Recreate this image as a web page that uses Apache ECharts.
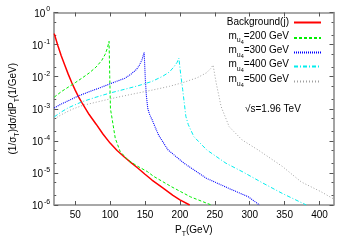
<!DOCTYPE html>
<html><head><meta charset="utf-8">
<script src="https://cdn.jsdelivr.net/npm/echarts@6/dist/echarts.min.js"></script>
<style>html,body{margin:0;padding:0;background:#fff}#c{width:350px;height:245px}</style>
</head><body><div id="c"></div>
<script>
// ---- data ----
const bgX  = [20, 25, 30, 35, 40, 45, 50, 55, 60, 70, 80, 90, 100, 110, 120, 130, 140, 150, 160, 175, 190, 200, 214];
const bgY  = [0.22, 0.095, 0.045, 0.023, 0.012, 0.0066, 0.0038, 0.0023, 0.0015, 6.6e-4, 3.3e-4, 1.6e-4, 8.5e-5, 5.0e-5, 3.2e-5, 2.1e-5, 1.4e-5, 9.1e-6, 6.0e-6, 3.5e-6, 2.0e-6, 1.45e-6, 1.0e-6];

const m200X = [20, 30, 40, 50, 60, 70, 80, 88, 93, 96, 98.5, 99.5, 100.5, 102.8, 107.4, 114.3, 125.8, 139.6, 153.4, 162, 188, 215, 245];
const m200Y = [2.3e-3, 3.4e-3, 4.7e-3, 6.5e-3, 9.1e-3, 0.013, 0.020, 0.032, 0.050, 0.076, 0.126, 0.010, 1.0e-3, 5.0e-4, 1.2e-4, 4.7e-5, 2.5e-5, 1.6e-5, 1.1e-5, 7.9e-6, 3.7e-6, 1.8e-6, 1.0e-6];

const m300X = [20, 30, 43, 54.5, 70, 84.4, 100, 121, 130, 138, 142, 145.5, 148.8, 150.5, 152, 154, 157, 160.3, 163, 169.5, 183, 206, 238, 270, 298, 314];
const m300Y = [1.05e-3, 1.4e-3, 1.9e-3, 2.5e-3, 3.4e-3, 4.4e-3, 6.0e-3, 8.9e-3, 0.012, 0.017, 0.023, 0.033, 0.057, 7.9e-3, 2.5e-3, 1.0e-3, 6.3e-4, 4.5e-4, 3.2e-4, 1.5e-4, 5.2e-5, 2.0e-5, 6.8e-6, 3.3e-6, 1.8e-6, 1.0e-6];

const m400X = [20, 30, 40, 60, 80, 100, 120, 140, 160, 175, 185, 192, 196, 198.5, 201, 204, 208.5, 212, 220, 238.5, 266, 291, 319, 346.6, 381];
const m400Y = [5.6e-4, 7.9e-4, 1.07e-3, 1.66e-3, 2.3e-3, 3.1e-3, 4.0e-3, 5.2e-3, 7.1e-3, 0.0102, 0.014, 0.021, 0.028, 0.038, 0.0126, 3.9e-3, 5.8e-4, 3.2e-4, 1.35e-4, 5.2e-5, 2.0e-5, 1.05e-5, 4.8e-6, 2.3e-6, 1.0e-6];

const m500X = [20, 30, 45, 60, 80, 107, 130, 160, 185, 205, 225, 238, 244, 247.5, 252, 259, 270.6, 289, 312, 346.6, 374, 402, 420];
const m500Y = [4.8e-4, 6.5e-4, 9.5e-4, 1.26e-3, 1.6e-3, 2.2e-3, 2.8e-3, 3.8e-3, 5.0e-3, 6.6e-3, 9.3e-3, 0.0132, 0.0178, 0.023, 6.3e-3, 1.17e-3, 2.75e-4, 1.07e-4, 5.2e-5, 1.6e-5, 5.2e-6, 2.6e-6, 1.55e-6];

const seriesNames = ['Background(j)', 'm200', 'm300', 'm400', 'm500'];
const massLabels = ['200', '300', '400', '500'];
const xTicks = [50, 100, 150, 200, 250, 300, 350, 400];
const yMajor = [1e-6, 1e-5, 1e-4, 1e-3, 1e-2, 1e-1, 1];
const yMinor = [2e-6, 5e-6, 2e-5, 5e-5, 2e-4, 5e-4, 2e-3, 5e-3, 2e-2, 5e-2, 2e-1, 5e-1];
const energyNote = '√s=1.96 TeV';

// ---- chart ----
const FONT = '"Liberation Sans", Arial, Helvetica, sans-serif';
const AXIS_COLOR = '#8c8c8c';
const TICK_COLOR = '#555';
const zip = (xs, ys) => xs.map((x, i) => [x, ys[i]]);

const chart = echarts.init(document.getElementById('c'), null, {renderer: 'canvas'});

function legendFormatter(name) {
  const i = seriesNames.indexOf(name);
  if (i === 0) return '{t|' + name + '}';
  return '{m|m}{u|u}{d|4}{m|=' + massLabels[i - 1] + ' GeV}';
}
const legendRich = {
  t: {fontSize: 10, fontFamily: FONT, color: '#000', verticalAlign: 'bottom', padding: [0, 0, 0, 0]},
  m: {fontSize: 10, fontFamily: FONT, color: '#000', verticalAlign: 'bottom', padding: [0, 0, 4, 0]},
  u: {fontSize: 7, fontFamily: FONT, color: '#000', verticalAlign: 'bottom', padding: [0, 0, 1, 0]},
  d: {fontSize: 5.5, fontFamily: FONT, color: '#000', verticalAlign: 'bottom', padding: [0, 0, 0, 0]}
};
const legendTops = [17.5, 31, 45.5, 59.5, 74.5];
const legends = seriesNames.map((n, i) => ({
  data: [n], right: 28, top: legendTops[i], orient: 'vertical', align: 'right',
  itemWidth: 27, itemHeight: 10, padding: 0, selectedMode: false,
  itemStyle: {opacity: 0, borderWidth: 0},
  formatter: legendFormatter,
  textStyle: {fontSize: 10, fontFamily: FONT, color: '#000', rich: legendRich}
}));

const yLabelRich = {
  b: {fontSize: 10, fontFamily: FONT, color: '#000', verticalAlign: 'top', padding: [3, 0, 0, 0]},
  s: {fontSize: 7, fontFamily: FONT, color: '#000', verticalAlign: 'top', padding: [0, 0, 0, 1]}
};
const subRich = {
  a: {fontSize: 10, fontFamily: FONT, color: '#000', verticalAlign: 'bottom', padding: [0, 0, 3, 0]},
  s: {fontSize: 7, fontFamily: FONT, color: '#000', verticalAlign: 'bottom'}
};

function yAxisDef(pos, values, len, labels, line) {
  return {
    type: 'log', logBase: 10, min: 1e-6, max: 1, position: pos,
    axisLine: {show: line, lineStyle: {color: AXIS_COLOR, width: 1.6}},
    axisTick: {show: true, inside: true, length: len, customValues: values, lineStyle: {color: TICK_COLOR, width: 1}},
    axisLabel: labels ? {
      show: true, customValues: values, margin: 4, fontFamily: FONT,
      formatter: v => '{b|10}{s|' + Math.round(Math.log10(v)) + '}', rich: yLabelRich
    } : {show: false},
    splitLine: {show: false}, minorTick: {show: false}
  };
}

const lineSeries = (name, xs, ys, color, type, width) => ({
  name, type: 'line', data: zip(xs, ys), symbol: 'none', showSymbol: false, smooth: false,
  clip: true, animation: false,
  lineStyle: {color, width, type}, itemStyle: {color}
});

const option = {
  animation: false,
  textStyle: {fontFamily: FONT},
  grid: {left: 43.5, top: 12.5, width: 290, height: 192.5, containLabel: false},
  legend: legends,
  xAxis: [
    {
      type: 'value', min: 20, max: 420, position: 'bottom',
      name: '{a|P}{s|T}{a|(GeV)}', nameLocation: 'middle', nameGap: 17,
      nameTextStyle: {rich: subRich},
      axisLine: {show: true, lineStyle: {color: AXIS_COLOR, width: 1.6}},
      axisTick: {show: true, inside: true, length: 4, customValues: xTicks, lineStyle: {color: TICK_COLOR}},
      axisLabel: {show: true, customValues: xTicks, margin: 5, fontSize: 10, fontFamily: FONT, color: '#000'},
      splitLine: {show: false}
    },
    {
      type: 'value', min: 20, max: 420, position: 'top',
      axisLine: {show: true, lineStyle: {color: AXIS_COLOR, width: 1.6}},
      axisTick: {show: true, inside: true, length: 4, customValues: xTicks, lineStyle: {color: TICK_COLOR}},
      axisLabel: {show: false}, splitLine: {show: false}
    }
  ],
  yAxis: [
    Object.assign(yAxisDef('left', yMajor, 4, true, true), {
      name: '{a|(1/σ}{s|T}{a|)dσ/dP}{s|T}{a|(1/GeV)}', nameLocation: 'middle', nameGap: 30,
      nameTextStyle: {rich: subRich}
    }),
    yAxisDef('left', yMinor, 2, false, false),
    yAxisDef('right', yMajor, 4, false, true),
    yAxisDef('right', yMinor, 2, false, false)
  ],
  graphic: [{
    type: 'text', left: 245, top: 104,
    style: {text: energyNote, fontSize: 10, fontFamily: FONT, fill: '#000'}
  }],
  series: [
    lineSeries(seriesNames[0], bgX, bgY, '#ff0000', 'solid', 1.5),
    lineSeries(seriesNames[1], m200X, m200Y, '#00ee00', [3, 2], 1),
    lineSeries(seriesNames[2], m300X, m300Y, '#0000ff', [1, 1], 1.1),
    lineSeries(seriesNames[3], m400X, m400Y, '#00eeee', [4, 2, 1, 2], 1),
    lineSeries(seriesNames[4], m500X, m500Y, '#a0a0a0', [1, 2], 1)
  ]
};
chart.setOption(option);
</script></body></html>
